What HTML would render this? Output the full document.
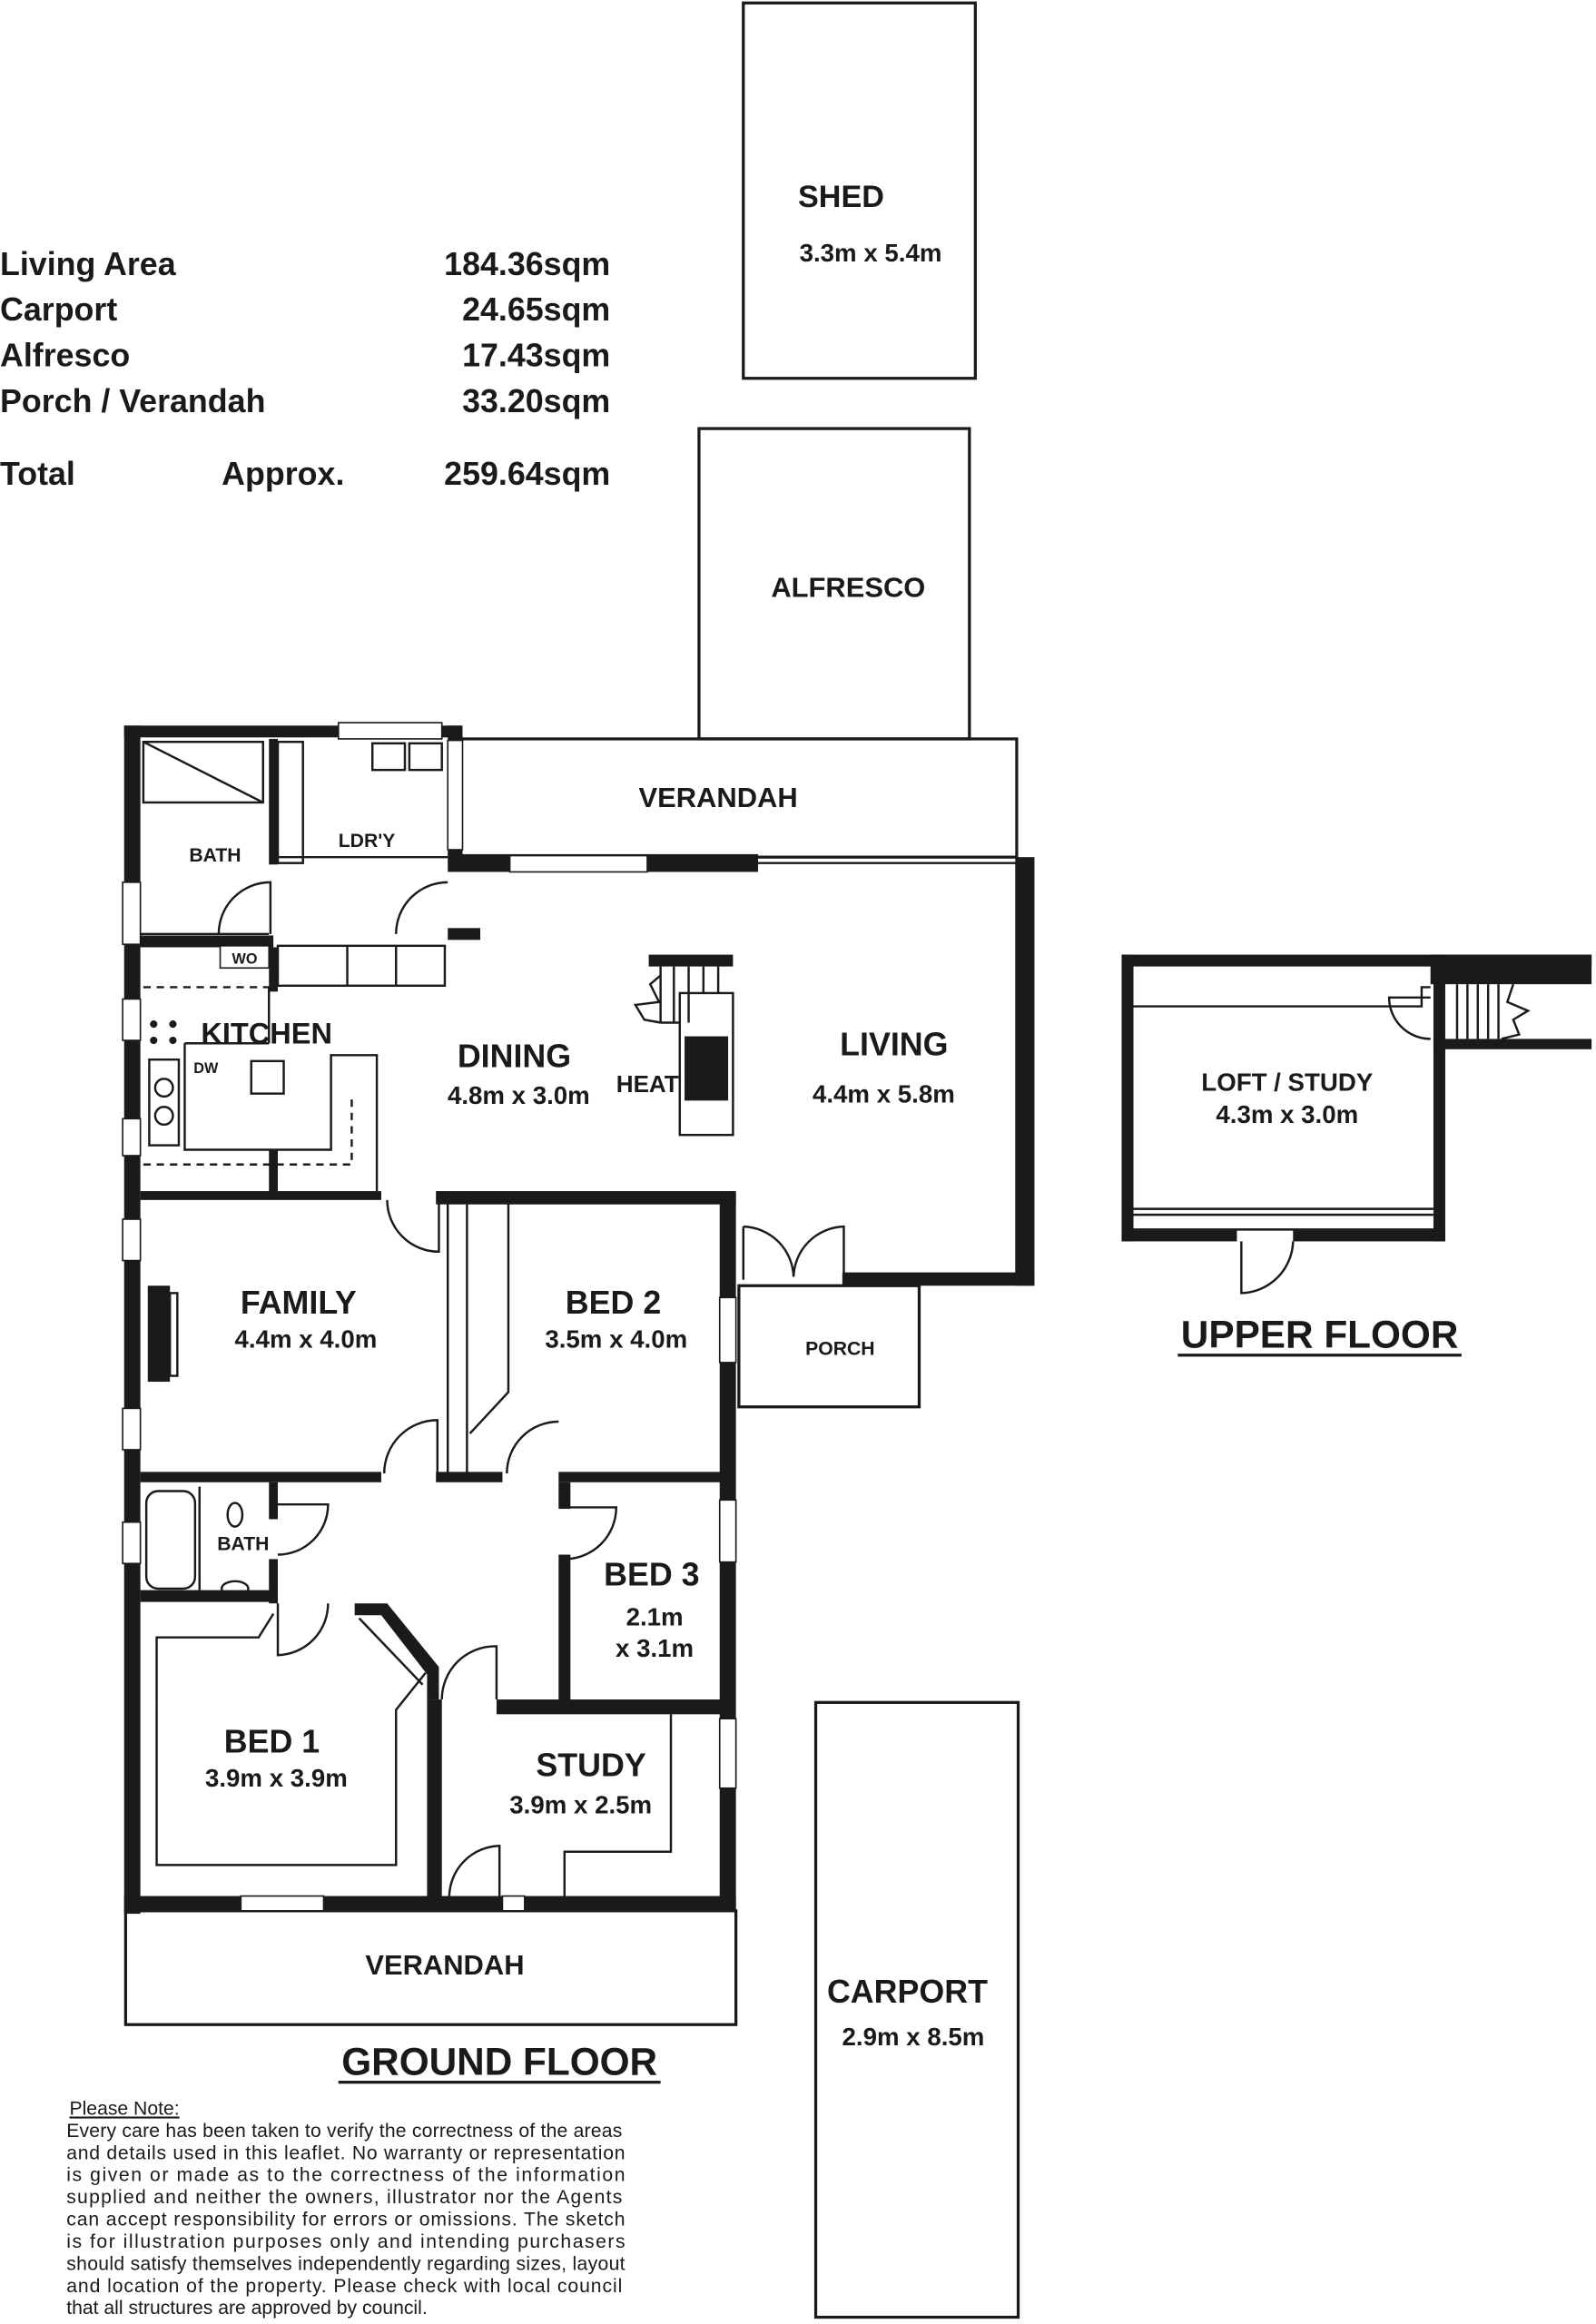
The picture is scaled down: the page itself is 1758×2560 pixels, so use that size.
<!DOCTYPE html>
<html><head><meta charset="utf-8"><style>
html,body{margin:0;padding:0;background:#fff;}
svg{display:block;}
text{font-family:"Liberation Sans",Arial,sans-serif;font-weight:bold;fill:#1a1a1a;}
.n{font-weight:normal;}
</style></head><body>
<svg width="1758" height="2560" viewBox="0 0 1080 1572.6" preserveAspectRatio="none" xmlns="http://www.w3.org/2000/svg">
<rect width="1080" height="1573" fill="#fff"/>
<g font-size="22">
<text x="0" y="186">Living Area</text><text x="413" y="186" text-anchor="end">184.36sqm</text>
<text x="0" y="217">Carport</text><text x="413" y="217" text-anchor="end">24.65sqm</text>
<text x="0" y="248">Alfresco</text><text x="413" y="248" text-anchor="end">17.43sqm</text>
<text x="0" y="279">Porch / Verandah</text><text x="413" y="279" text-anchor="end">33.20sqm</text>
<text x="0" y="328">Total</text><text x="150" y="328">Approx.</text><text x="413" y="328" text-anchor="end">259.64sqm</text>
</g>
<g fill="none" stroke="#1a1a1a" stroke-width="2">
<rect x="503" y="2" width="157" height="254"/>
<rect x="473" y="290" width="183" height="210"/>
<rect x="312" y="500" width="376" height="80"/>
<rect x="85" y="1293" width="413" height="77"/>
<rect x="500" y="870" width="122" height="82"/>
<rect x="552" y="1152" width="137" height="416"/>
</g>
<text x="540" y="140" font-size="21">SHED</text>
<text x="541" y="177" font-size="17">3.3m x 5.4m</text>
<text x="574" y="404" font-size="19" text-anchor="middle">ALFRESCO</text>
<text x="486" y="546" font-size="19" text-anchor="middle">VERANDAH</text>
<text x="301" y="1336" font-size="19" text-anchor="middle">VERANDAH</text>
<text x="614" y="1355" font-size="22" text-anchor="middle">CARPORT</text>
<text x="618" y="1384" font-size="17" text-anchor="middle">2.9m x 8.5m</text>
<g fill="#1a1a1a">
<rect x="84" y="491" width="228" height="8"/>
<rect x="84" y="491" width="11" height="804"/>
<rect x="303" y="491" width="10" height="88"/>
<rect x="303" y="578" width="210" height="12"/>
<rect x="687" y="580" width="13" height="290"/>
<rect x="570" y="861" width="130" height="9"/>
<rect x="487" y="808" width="11" height="485"/>
<rect x="295" y="806" width="203" height="9"/>
<rect x="95" y="806" width="163" height="6"/>
<rect x="84" y="1283" width="414" height="10"/>
<rect x="95" y="996" width="163" height="7"/>
<rect x="295" y="996" width="45" height="7"/>
<rect x="378" y="996" width="115" height="7"/>
<rect x="378" y="1003" width="8" height="18"/>
<rect x="378" y="1052" width="8" height="100"/>
<rect x="336" y="1150" width="157" height="10"/>
<rect x="289" y="1150" width="10" height="140"/>
<rect x="95" y="1076" width="90" height="8"/>
<rect x="182" y="1003" width="6" height="25"/>
<rect x="182" y="1055" width="6" height="30"/>
<polygon points="240,1085 262,1085 297,1128 297,1150 289,1150 289,1133 258,1093 240,1093"/>
<rect x="95" y="633" width="90" height="8"/>
<rect x="182" y="500" width="6" height="85"/>
<rect x="182" y="641" width="6" height="30"/>
<rect x="182" y="778" width="6" height="30"/>
<rect x="303" y="628" width="22" height="8"/>
<rect x="439" y="646" width="57" height="8"/>
<rect x="100" y="870" width="15" height="65"/>
</g>
<g fill="#fff" stroke="#1a1a1a" stroke-width="1">
<rect x="229" y="489" width="70" height="11"/>
<rect x="303" y="501" width="10" height="74"/>
<rect x="345" y="579" width="93" height="11"/>
<rect x="83" y="597" width="12" height="42"/>
<rect x="83" y="676" width="12" height="28"/>
<rect x="83" y="757" width="12" height="25"/>
<rect x="83" y="825" width="12" height="28"/>
<rect x="83" y="953" width="12" height="28"/>
<rect x="83" y="1030" width="12" height="28"/>
<rect x="487" y="878" width="11" height="44"/>
<rect x="487" y="1015" width="11" height="42"/>
<rect x="487" y="1163" width="11" height="47"/>
<rect x="163" y="1283" width="56" height="10"/>
<rect x="340" y="1283" width="15" height="10"/>
<rect x="149" y="640" width="33" height="15"/>
</g>
<g fill="none" stroke="#1a1a1a" stroke-width="1.5">
<line x1="513" y1="584" x2="688" y2="584"/>
<rect x="252" y="503" width="22" height="18"/><rect x="277" y="503" width="22" height="18"/>
<rect x="97" y="502" width="81" height="41"/><line x1="97" y1="502" x2="178" y2="543"/>
<rect x="188" y="502" width="17" height="82"/>
<line x1="95" y1="632" x2="182" y2="632"/>
<line x1="188" y1="580" x2="303" y2="580"/>
<rect x="188" y="640" width="113" height="27"/>
<line x1="235" y1="640" x2="235" y2="667"/><line x1="268" y1="640" x2="268" y2="667"/>
<polyline points="125,706 125,778 224,778 224,714 255,714 255,806"/>
<line x1="182" y1="668" x2="182" y2="706"/>
<line x1="125" y1="706" x2="182" y2="706"/>
<rect x="170" y="718" width="22" height="22"/>
<polyline points="97,668 182,668" stroke-dasharray="5,4"/>
<polyline points="97,788 238,788 238,742" stroke-dasharray="5,4"/>
<rect x="101" y="717" width="20" height="58"/>
<ellipse cx="111" cy="736" rx="6" ry="6"/><ellipse cx="111" cy="755" rx="6" ry="6"/>
<rect x="460" y="672" width="36" height="96"/>
<rect x="464" y="702" width="28" height="42" fill="#1a1a1a"/>
<line x1="447" y1="654" x2="447" y2="692"/>
<line x1="456" y1="654" x2="456" y2="692"/><line x1="466" y1="654" x2="466" y2="692"/>
<line x1="476" y1="654" x2="476" y2="672"/><line x1="486" y1="654" x2="486" y2="672"/>
<line x1="447" y1="692" x2="460" y2="692"/>
<polyline points="447,660 440,666 446,678 430,680 436,690 447,692"/>
<line x1="303" y1="814" x2="303" y2="1000"/>
<line x1="316" y1="814" x2="316" y2="1000"/>
<polyline points="344,814 344,942 318,970"/>
<rect x="115" y="875" width="5" height="56"/>
<rect x="99" y="1009" width="33" height="66" rx="8"/>
<line x1="135" y1="1006" x2="135" y2="1076"/>
<ellipse cx="159" cy="1025" rx="5" ry="8"/><ellipse cx="159" cy="1075" rx="9" ry="5"/>
<polyline points="106,1151 106,1262 268,1262 268,1157 288,1132"/>
<polyline points="106,1151 106,1108 175,1108 185,1092"/>
<line x1="243" y1="1095" x2="286" y2="1140"/>
<polyline points="454,1160 454,1253 382,1253 382,1283"/>
<path d="M148,632 A35,35 0 0 1 183,597 L183,632"/>
<path d="M268,632 A35,35 0 0 1 303,597"/>
<path d="M262,812 A35,35 0 0 0 297,847 L297,812"/>
<path d="M260,997 A36,36 0 0 1 296,961 L296,997"/>
<path d="M343,997 A35,35 0 0 1 378,962"/>
<path d="M188,1018 L222,1018 A34,34 0 0 1 188,1052"/>
<path d="M382,1020 L417,1020 A35,35 0 0 1 382,1055"/>
<path d="M188,1085 L188,1120 A35,35 0 0 0 222,1085"/>
<path d="M299,1150 A36,36 0 0 1 336,1114 L336,1150"/>
<path d="M304,1283 A35,35 0 0 1 338,1249 L338,1283"/>
<path d="M503,830 L503,866 M503,830 A35,35 0 0 1 537,864 A35,35 0 0 1 571,830 L571,866"/>
</g>
<g font-size="13"><text x="128" y="583">BATH</text><text x="229" y="573">LDR'Y</text><text x="157" y="652" font-size="10">WO</text>
<text x="545" y="917">PORCH</text><text x="147" y="1049">BATH</text><text x="131" y="726" font-size="10">DW</text></g>
<g fill="#1a1a1a"><circle cx="104" cy="693" r="2.5"/><circle cx="117" cy="693" r="2.5"/><circle cx="104" cy="704" r="2.5"/><circle cx="117" cy="704" r="2.5"/></g>
<text x="136" y="706" font-size="20">KITCHEN</text>
<text x="348" y="722" font-size="22" text-anchor="middle">DINING</text>
<text x="351" y="747" font-size="17" text-anchor="middle">4.8m x 3.0m</text>
<text x="417" y="739" font-size="16">HEAT</text>
<text x="605" y="714" font-size="22" text-anchor="middle">LIVING</text>
<text x="598" y="746" font-size="17" text-anchor="middle">4.4m x 5.8m</text>
<text x="202" y="889" font-size="22" text-anchor="middle">FAMILY</text>
<text x="207" y="912" font-size="17" text-anchor="middle">4.4m x 4.0m</text>
<text x="415" y="889" font-size="22" text-anchor="middle">BED 2</text>
<text x="417" y="912" font-size="17" text-anchor="middle">3.5m x 4.0m</text>
<text x="441" y="1073" font-size="22" text-anchor="middle">BED 3</text>
<text x="443" y="1100" font-size="17" text-anchor="middle">2.1m</text>
<text x="443" y="1121" font-size="17" text-anchor="middle">x 3.1m</text>
<text x="184" y="1186" font-size="22" text-anchor="middle">BED 1</text>
<text x="187" y="1209" font-size="17" text-anchor="middle">3.9m x 3.9m</text>
<text x="400" y="1202" font-size="22" text-anchor="middle">STUDY</text>
<text x="393" y="1227" font-size="17" text-anchor="middle">3.9m x 2.5m</text>
<text x="338" y="1404" font-size="26" text-anchor="middle">GROUND FLOOR</text>
<rect x="229" y="1408" width="218" height="2" fill="#1a1a1a"/>
<g fill="#1a1a1a">
<rect x="759" y="646" width="318" height="8"/>
<rect x="759" y="646" width="8" height="194"/>
<rect x="970" y="646" width="8" height="194"/>
<rect x="759" y="832" width="78" height="8"/>
<rect x="875" y="832" width="103" height="8"/>
<rect x="968" y="646" width="109" height="20"/>
<rect x="970" y="703" width="107" height="7"/>
</g>
<g fill="none" stroke="#1a1a1a" stroke-width="1.5">
<polyline points="767,681 962,681 962,668 968,668"/>
<line x1="767" y1="818" x2="970" y2="818"/><line x1="767" y1="832" x2="970" y2="832"/>
<line x1="767" y1="822" x2="970" y2="822"/>
<path d="M968,675 L940,675 A28,28 0 0 0 968,703"/>
<line x1="986" y1="666" x2="986" y2="703"/><line x1="993" y1="666" x2="993" y2="703"/><line x1="1000" y1="666" x2="1000" y2="703"/><line x1="1007" y1="666" x2="1007" y2="703"/><line x1="1014" y1="666" x2="1014" y2="703"/>
<polyline points="1024,666 1020,678 1034,684 1024,690 1028,700 1016,703"/>
<path d="M840,840 L840,875 A36,36 0 0 0 875,840"/>
</g>
<text x="871" y="738" font-size="17" text-anchor="middle">LOFT / STUDY</text>
<text x="871" y="760" font-size="17" text-anchor="middle">4.3m x 3.0m</text>
<text x="893" y="912" font-size="26" text-anchor="middle">UPPER FLOOR</text>
<rect x="797" y="916" width="192" height="2" fill="#1a1a1a"/>
<g font-size="13">
<text x="47" y="1431" class="n" text-decoration="underline">Please Note:</text>
<text x="45" y="1446" class="n" textLength="376">Every care has been taken to verify the correctness of the areas</text>
<text x="45" y="1461" class="n" textLength="378">and  details used  in this leaflet.  No  warranty  or  representation</text>
<text x="45" y="1476" class="n" textLength="378">is given  or  made as  to the correctness  of  the  information</text>
<text x="45" y="1491" class="n" textLength="376">supplied  and neither  the owners, illustrator  nor the Agents</text>
<text x="45" y="1506" class="n" textLength="378">can accept responsibility  for  errors or omissions.  The sketch</text>
<text x="45" y="1521" class="n" textLength="378">is  for  illustration  purposes  only and  intending  purchasers</text>
<text x="45" y="1536" class="n" textLength="378">should satisfy themselves independently regarding  sizes, layout</text>
<text x="45" y="1551" class="n" textLength="376">and  location  of  the  property.  Please  check  with local council</text>
<text x="45" y="1566" class="n">that all structures are approved by council.</text>
</g>
</svg>
</body></html>
